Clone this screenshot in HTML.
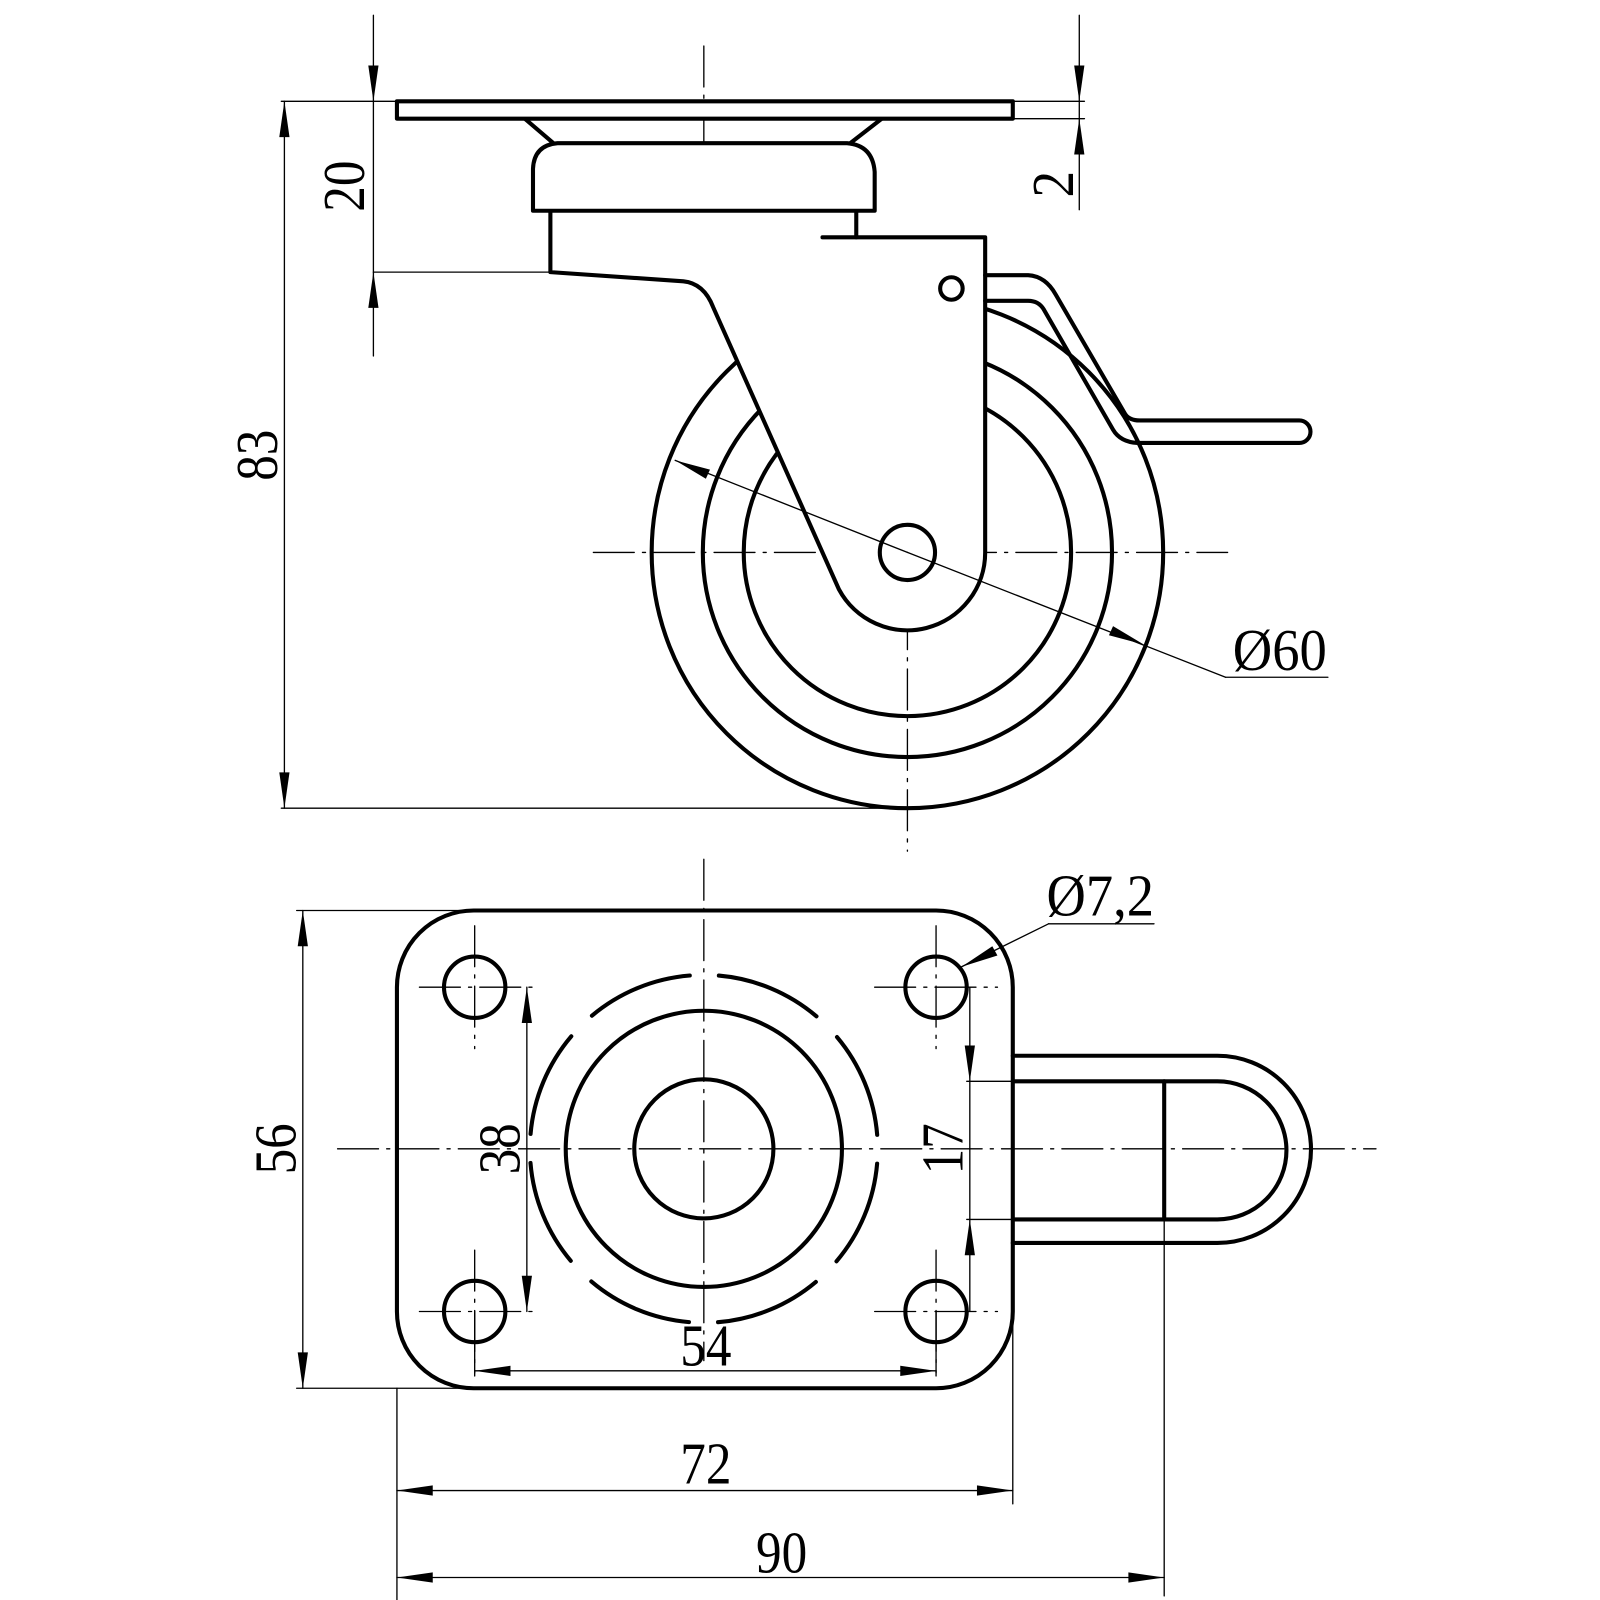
<!DOCTYPE html>
<html><head><meta charset="utf-8"><style>
html,body{margin:0;padding:0;background:#fff}
svg{display:block}
text{font-family:"Liberation Serif",serif;fill:#000}
</style></head><body>
<svg width="1600" height="1600" viewBox="0 0 1564 1564" xmlns="http://www.w3.org/2000/svg">
<rect width="1564" height="1564" fill="#fff"/>
<g fill="none" stroke="#000" stroke-linejoin="round" stroke-linecap="round">
<g stroke-width="1.3" stroke-dasharray="40 8 3 8">
<line x1="688" y1="45" x2="688" y2="272"/>
<line x1="887" y1="300" x2="887" y2="832"/>
<line x1="580" y1="540" x2="1200" y2="540"/>
<line x1="688" y1="840" x2="688" y2="1330"/>
<line x1="330" y1="1123" x2="1345" y2="1123"/>
<line x1="464" y1="905" x2="464" y2="1025"/><line x1="410" y1="965" x2="520" y2="965"/>
<line x1="915" y1="905" x2="915" y2="1025"/><line x1="855" y1="965" x2="975" y2="965"/>
<line x1="464" y1="1222" x2="464" y2="1342"/><line x1="410" y1="1282" x2="520" y2="1282"/>
<line x1="915" y1="1222" x2="915" y2="1342"/><line x1="855" y1="1282" x2="975" y2="1282"/>
</g>
<g stroke-width="4">
<circle cx="887" cy="540" r="250"/>
<circle cx="887" cy="540" r="200"/>
<circle cx="887" cy="540" r="160"/>
</g>
<path d="M804,232 L963,232 L963,540 A76,76 0 0 1 820,576 L697,300 Q688,277 668,275 L538,266 L538,206 L837,206 L837,232 Z" fill="#fff" stroke="none"/>
<g stroke-width="4">
<path d="M804,232 L963,232 L963,540 A76,76 0 0 1 820,576 L697,300 Q688,277 668,275 L538,266 L538,206"/>
<line x1="837" y1="206" x2="837" y2="232"/>
<circle cx="887" cy="540" r="27"/>
<circle cx="930" cy="282" r="11"/>
<path d="M521,206 L521,165 Q522,142 545,140 L828,140 Q853,142 855,168 L855,206 Z" fill="#fff"/>
<path d="M513,116 L541,140 M862,116 L831,140"/>
<rect x="388" y="99" width="602" height="17" fill="#fff"/>
<path d="M963,269 L1005,269 Q1022,270 1032,288 L1100,405 Q1104,411 1114,411 L1270,411 A11,11 0 0 1 1270,433 L1112,433 Q1095,432 1088,420 L1020,302 Q1015,294 1005,294 L963,294"/>
</g>
<g stroke-width="1.3">
<line x1="887" y1="540" x2="660" y2="450"/>
<line x1="887" y1="540" x2="1198" y2="662"/>
<line x1="1198" y1="662" x2="1298" y2="662"/>
<line x1="365" y1="15" x2="365" y2="348"/>
<line x1="275" y1="99" x2="388" y2="99"/>
<line x1="365" y1="266" x2="538" y2="266"/>
<line x1="1055" y1="15" x2="1055" y2="205"/>
<line x1="990" y1="99" x2="1060" y2="99"/>
<line x1="990" y1="116" x2="1060" y2="116"/>
<line x1="278" y1="99" x2="278" y2="790"/>
<line x1="275" y1="790" x2="887" y2="790"/>
</g>
<g stroke-width="4">
<rect x="388" y="890" width="602" height="467" rx="75" ry="75"/>
<circle cx="464" cy="965" r="30"/><circle cx="915" cy="965" r="30"/>
<circle cx="464" cy="1282" r="30"/><circle cx="915" cy="1282" r="30"/>
<circle cx="688" cy="1123" r="68"/>
<circle cx="688" cy="1123" r="135"/>
<circle cx="688" cy="1123" r="170" stroke-dasharray="105 28.5" stroke-dashoffset="119"/>
<path d="M990,1032 L1190,1032 A91.5,91.5 0 0 1 1190,1215 L990,1215"/>
<path d="M990,1057 L1190,1057 A67.5,67.5 0 0 1 1190,1192 L990,1192"/>
<line x1="1138" y1="1057" x2="1138" y2="1192"/>
</g>
<g stroke-width="1.3">
<line x1="1138" y1="1192" x2="1138" y2="1560"/>
<line x1="296" y1="890" x2="296" y2="1357"/>
<line x1="290" y1="890" x2="460" y2="890"/>
<line x1="290" y1="1357" x2="460" y2="1357"/>
<line x1="515" y1="965" x2="515" y2="1282"/>
<line x1="948" y1="965" x2="948" y2="1282"/>
<line x1="945" y1="1057" x2="1138" y2="1057"/>
<line x1="945" y1="1192" x2="1138" y2="1192"/>
<line x1="464" y1="1282" x2="464" y2="1345"/>
<line x1="915" y1="1282" x2="915" y2="1345"/>
<line x1="464" y1="1340" x2="915" y2="1340"/>
<line x1="388" y1="1357" x2="388" y2="1570"/>
<line x1="990" y1="1215" x2="990" y2="1470"/>
<line x1="388" y1="1457" x2="990" y2="1457"/>
<line x1="388" y1="1542" x2="1138" y2="1542"/>
<line x1="940" y1="945" x2="1025" y2="903"/>
<line x1="1025" y1="903" x2="1128" y2="903"/>
</g>
</g>
<g fill="#000">
<polygon points="365,99 360,64 370,64"/>
<polygon points="365,266 360,301 370,301"/>
<polygon points="1055,99 1050,64 1060,64"/>
<polygon points="1055,116 1050,151 1060,151"/>
<polygon points="278,99 273,134 283,134"/>
<polygon points="278,790 273,755 283,755"/>
<polygon points="660,450 694,459 690,468"/>
<polygon points="1118,630 1084,621 1088,612"/>
<polygon points="296,890 291,925 301,925"/>
<polygon points="296,1357 291,1322 301,1322"/>
<polygon points="515,965 510,1000 520,1000"/>
<polygon points="515,1282 510,1247 520,1247"/>
<polygon points="948,1057 943,1022 953,1022"/>
<polygon points="948,1192 943,1227 953,1227"/>
<polygon points="464,1340 499,1335 499,1345"/>
<polygon points="915,1340 880,1335 880,1345"/>
<polygon points="388,1457 423,1452 423,1462"/>
<polygon points="990,1457 955,1452 955,1462"/>
<polygon points="388,1542 423,1537 423,1547"/>
<polygon points="1138,1542 1103,1537 1103,1547"/>
<polygon points="940,945 970,925 975,934"/>
</g>
<g font-size="58">
<text x="1205" y="655" textLength="92" lengthAdjust="spacingAndGlyphs">Ø60</text>
<text x="1023" y="895" textLength="105" lengthAdjust="spacingAndGlyphs">Ø7,2</text>
<text x="665" y="1335" textLength="50" lengthAdjust="spacingAndGlyphs">54</text>
<text x="665" y="1450" textLength="50" lengthAdjust="spacingAndGlyphs">72</text>
<text x="739" y="1537" textLength="50" lengthAdjust="spacingAndGlyphs">90</text>
<text transform="translate(356,182) rotate(-90)" x="-25" textLength="50" lengthAdjust="spacingAndGlyphs">20</text>
<text transform="translate(1049,180) rotate(-90)" x="-13" textLength="26" lengthAdjust="spacingAndGlyphs">2</text>
<text transform="translate(271,445) rotate(-90)" x="-25" textLength="50" lengthAdjust="spacingAndGlyphs">83</text>
<text transform="translate(289,1123) rotate(-90)" x="-25" textLength="50" lengthAdjust="spacingAndGlyphs">56</text>
<text transform="translate(508,1123) rotate(-90)" x="-25" textLength="50" lengthAdjust="spacingAndGlyphs">38</text>
<text transform="translate(941,1123) rotate(-90)" x="-25" textLength="50" lengthAdjust="spacingAndGlyphs">17</text>
</g>
</svg>
</body></html>
